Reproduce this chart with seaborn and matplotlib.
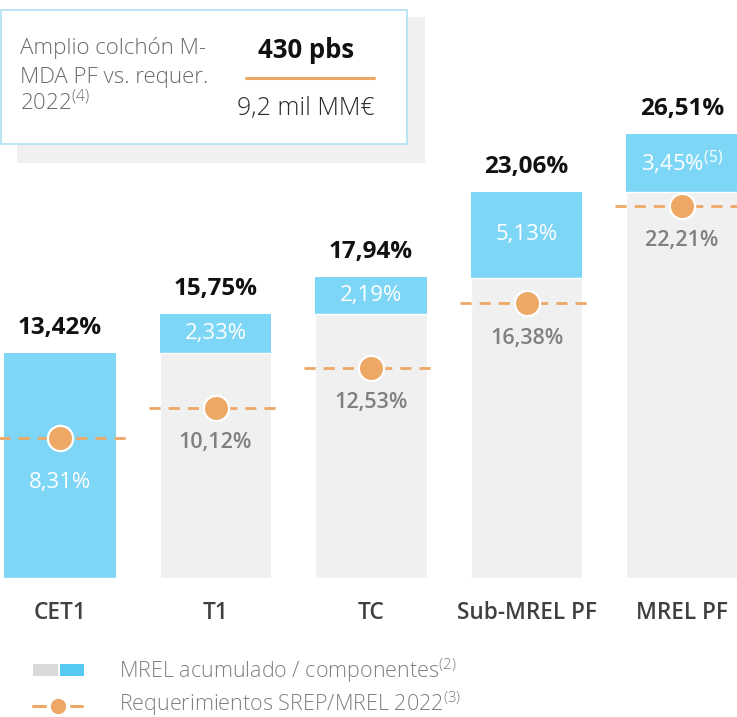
import numpy as np
import pandas as pd
import matplotlib
matplotlib.use("Agg")
import matplotlib.pyplot as plt
import matplotlib.patches as mpatches
import seaborn as sns

# ---- data -------------------------------------------------------------
categories = ["CET1", "T1", "TC", "Sub-MREL PF", "MREL PF"]
totals = [13.42, 15.75, 17.94, 23.06, 26.51]          # MREL acumulado
components = [13.42, 2.33, 2.19, 5.13, 3.45]          # componente de cada nivel
requirements = [8.31, 10.12, 12.53, 16.38, 22.21]     # SREP/MREL 2022
total_labels = ["13,42%", "15,75%", "17,94%", "23,06%", "26,51%"]
component_labels = ["", "2,33%", "2,19%", "5,13%", r"3,45%$^{\mathregular{(5)}}$"]
requirement_labels = ["8,31%", "10,12%", "12,53%", "16,38%", "22,21%"]

box_text = ["Amplio colchón M-", "MDA PF vs. requer.", r"2022$^{\mathregular{(4)}}$"]
box_value = "430 pbs"
box_amount = "9,2 mil MM€"
legend_labels = [r"MREL acumulado / componentes$^{\mathregular{(2)}}$",
                 r"Requerimientos SREP/MREL 2022$^{\mathregular{(3)}}$"]

# ---- style ------------------------------------------------------------
BLUE = "#7dd6f6"
BLUE_LEG = "#55c9f2"
GRAY = "#f0f0f0"
GRAY_LEG = "#d9d9d9"
ORANGE = "#eda865"
TXT_GRAY = "#808080"
BOX_BORDER = "#aee0f3"

sns.set_theme(style="white")
plt.rcParams["font.family"] = ["Open Sans", "DejaVu Sans"]

W, H = 737, 717
fig = plt.figure(figsize=(W / 100, H / 100), dpi=100)
ax = fig.add_axes([0, 0, 1, 1])

base = [t - c for t, c in zip(totals, components)]
df = pd.DataFrame({"cat": categories, "total": totals, "base": base,
                   "req": requirements})

BAR_W = 0.714
# full stacked height in blue, cumulative base in light gray on top of it
sns.barplot(data=df, x="cat", y="total", order=categories, color=BLUE,
            width=BAR_W, saturation=1, linewidth=0, ax=ax, zorder=1)
sns.barplot(data=df, x="cat", y="base", order=categories, color=GRAY,
            width=BAR_W, saturation=1, edgecolor="white", linewidth=1.0,
            ax=ax, zorder=2)

xs = np.arange(len(categories))

# requirement dashed lines and markers
for x, r in zip(xs, requirements):
    ax.plot([x - 0.43, x + 0.43], [r, r], color=ORANGE, lw=2.0,
            ls=(0, (4.0, 2.9)), zorder=3, solid_capstyle="butt")
sns.scatterplot(x=xs, y=requirements, s=330, color=ORANGE, edgecolor="white",
                linewidth=1.6, zorder=4, ax=ax, legend=False)

# labels
for i, x in enumerate(xs):
    ax.annotate(total_labels[i], (x, totals[i]), xytext=(0, 18),
                textcoords="offset points", ha="center", va="center",
                fontsize=17.5, fontweight="bold", color="#111111")
    if component_labels[i]:
        ax.text(x, totals[i] - components[i] / 2, component_labels[i],
                ha="center", va="center", fontsize=16, fontweight="medium",
                color="white")
    off = -32 if i == 0 else -25
    ax.annotate(requirement_labels[i], (x, requirements[i]), xytext=(0, off),
                textcoords="offset points", ha="center", va="center",
                fontsize=16 if i == 0 else 15.5,
                fontweight="medium" if i == 0 else "semibold",
                color="white" if i == 0 else TXT_GRAY)
    ax.text(x, -2.1, categories[i], ha="center", va="center", fontsize=16.3,
            fontweight="semibold", color="#404040")

ax.set_xlim(-60 / 155.5, (W - 60) / 155.5)
ax.set_ylim(-(H - 577.5) / 16.73, 577.5 / 16.73)
ax.axis("off")


def fx(px):
    return px / W


def fy(py):
    return 1 - py / H


# summary box with offset shadow
fig.patches.append(mpatches.Rectangle((fx(17), fy(163)), fx(408), 146 / H,
                                      transform=fig.transFigure,
                                      facecolor=GRAY, edgecolor="none", zorder=5))
fig.patches.append(mpatches.Rectangle((fx(0.5), fy(144)), fx(406), 134 / H,
                                      transform=fig.transFigure,
                                      facecolor="white", edgecolor=BOX_BORDER,
                                      linewidth=1.2, zorder=6))
for j, (line, py) in enumerate(zip(box_text, [48, 77, 103])):
    fig.text(fx(20), fy(py), line, ha="left", va="center", fontsize=16,
             fontweight="light", color="#6b6b6b", zorder=7)
fig.text(fx(306), fy(50), box_value, ha="center", va="center", fontsize=18.5,
         fontweight="bold", color="#111111", zorder=7)
fig.lines.append(plt.Line2D([fx(246), fx(374)], [fy(77.5), fy(77.5)],
                            transform=fig.transFigure, color=ORANGE, lw=2.2,
                            zorder=7))
fig.text(fx(306), fy(109), box_amount, ha="center", va="center", fontsize=18,
         fontweight="light", color="#2b2b2b", zorder=7)

# legend
fig.patches.append(mpatches.Rectangle((fx(33), fy(676)), fx(25), 12 / H,
                                      transform=fig.transFigure,
                                      facecolor=GRAY_LEG, edgecolor="none"))
fig.patches.append(mpatches.Rectangle((fx(60), fy(676)), fx(24), 12 / H,
                                      transform=fig.transFigure,
                                      facecolor=BLUE_LEG, edgecolor="none"))
for x0, x1 in [(33, 45), (71, 82)]:
    fig.lines.append(plt.Line2D([fx(x0), fx(x1)], [fy(706), fy(706)],
                                transform=fig.transFigure, color=ORANGE, lw=2.2))
fig.lines.append(plt.Line2D([fx(58)], [fy(706)], transform=fig.transFigure,
                            marker="o", markersize=10, color=ORANGE, lw=0))
for lab, py in zip(legend_labels, [671, 704]):
    fig.text(fx(119), fy(py), lab, ha="left", va="center", fontsize=15.5,
             fontweight="light", color=TXT_GRAY)

fig.savefig("out.png", dpi=100)
